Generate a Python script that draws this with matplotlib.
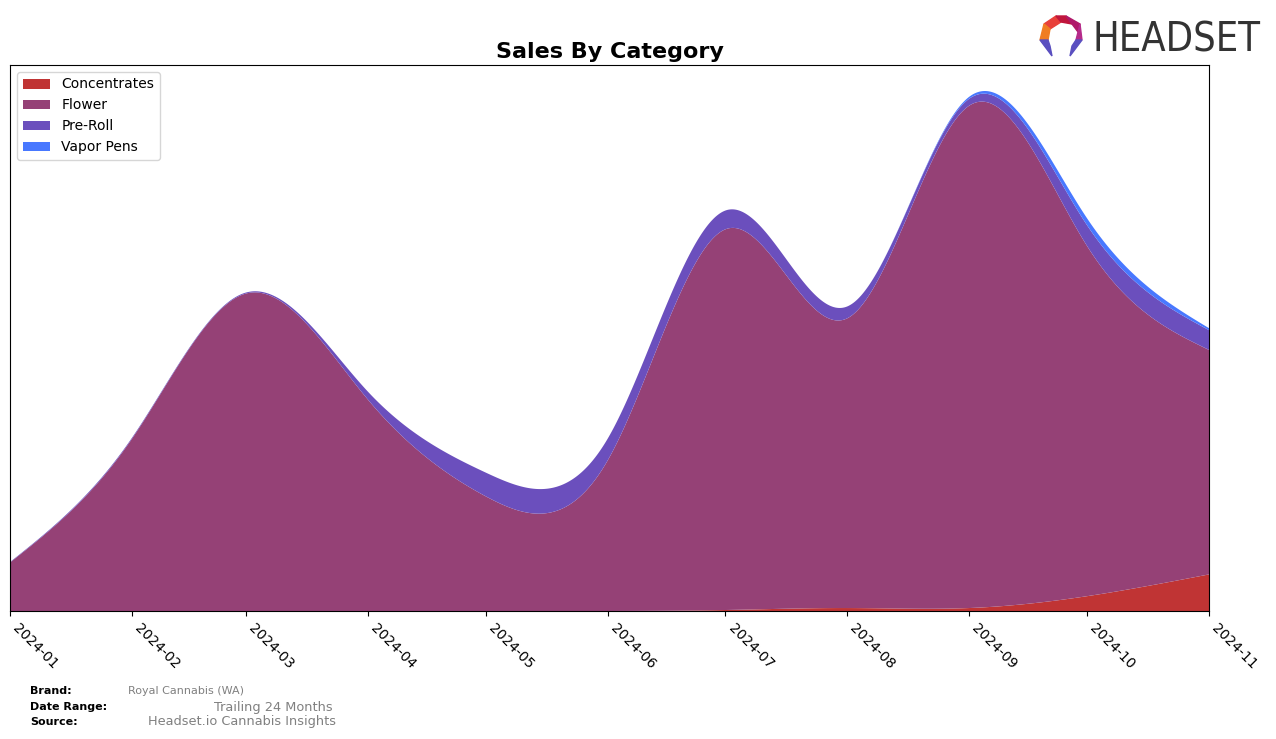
import numpy as np
import pandas as pd
import matplotlib
matplotlib.use("Agg")
import matplotlib.pyplot as plt
import matplotlib.dates as mdates
from matplotlib.patches import Polygon

# ---- data (monthly sales, arbitrary units) ----
months = ["2024-01", "2024-02", "2024-03", "2024-04", "2024-05", "2024-06",
          "2024-07", "2024-08", "2024-09", "2024-10", "2024-11"]
categories = ["Concentrates", "Flower", "Pre-Roll", "Vapor Pens"]
concentrates = [0, 0, 0, 0, 0, 0, 1, 3, 3, 15, 37]
flower = [49, 174, 321, 214, 116, 152, 385, 293, 508, 354, 227]
pre_roll = [0.5, 1, 1, 8, 24, 22, 19, 12, 7, 21, 20]
vapor_pens = [0, 0, 0, 0, 0, 0, 0, 0, 2, 7, 2]
colors = ["#c03434", "#954176", "#6b4fbd", "#4878ff"]


def spline(x, y, xs):
    """Natural cubic spline evaluated at xs."""
    x = np.asarray(x, float)
    y = np.asarray(y, float)
    n = len(x)
    h = np.diff(x)
    A = np.zeros((n, n))
    b = np.zeros(n)
    A[0, 0] = 1.0
    A[-1, -1] = 1.0
    for i in range(1, n - 1):
        A[i, i - 1] = h[i - 1]
        A[i, i] = 2 * (h[i - 1] + h[i])
        A[i, i + 1] = h[i]
        b[i] = 6 * ((y[i + 1] - y[i]) / h[i] - (y[i] - y[i - 1]) / h[i - 1])
    M = np.linalg.solve(A, b)
    idx = np.clip(np.searchsorted(x, xs) - 1, 0, n - 2)
    x0, x1 = x[idx], x[idx + 1]
    hh = x1 - x0
    out = (M[idx] * (x1 - xs) ** 3 / (6 * hh) + M[idx + 1] * (xs - x0) ** 3 / (6 * hh)
           + (y[idx] / hh - M[idx] * hh / 6) * (x1 - xs)
           + (y[idx + 1] / hh - M[idx + 1] * hh / 6) * (xs - x0))
    return out


dates = pd.to_datetime(months)
xnum = mdates.date2num(dates)
xs = np.linspace(xnum[0], xnum[-1], 800)
series = [concentrates, flower, pre_roll, vapor_pens]
smooth = [np.clip(spline(xnum, s, xs), 0, None) for s in series]

fig = plt.figure(figsize=(12.76, 7.39), dpi=100)
ax = fig.add_axes([10 / 1276, 1 - 611 / 739, 1199 / 1276, 546 / 739])
ax.stackplot(xs, *smooth, labels=categories, colors=colors, linewidth=0.4, edgecolor="none")
ax.set_xlim(xnum[0], xnum[-1])
ax.set_ylim(bottom=0)
ax.set_yticks([])
ax.set_xticks(xnum)
ax.set_xticklabels(months, rotation=-45, ha="left", fontsize=10)
ax.legend(loc="upper left", fontsize=10)
ax.set_title("Sales By Category", fontsize=16, fontweight="bold", pad=5)

# footer
fig.text(30 / 1276, 1 - 691 / 739, "Brand:", fontsize=8, fontweight="bold", va="center")
fig.text(128 / 1276, 1 - 691 / 739, "Royal Cannabis (WA)", fontsize=8, color="#808080", va="center")
fig.text(30 / 1276, 1 - 707 / 739, "Date Range:", fontsize=8, fontweight="bold", va="center")
fig.text(214 / 1276, 1 - 707 / 739, "Trailing 24 Months", fontsize=9.3, color="#808080", va="center")
fig.text(30 / 1276, 1 - 722 / 739, "Source:", fontsize=8, fontweight="bold", va="center")
fig.text(148 / 1276, 1 - 722 / 739, "Headset.io Cannabis Insights", fontsize=9.3, color="#808080", va="center")

# logo
lax = fig.add_axes([1036 / 1276, 1 - 62 / 739, 50 / 1276, 50 / 739])
lax.set_xlim(0, 50)
lax.set_ylim(0, 50)
lax.axis("off")
polys = [
    ([(8, 38), (20, 46), (25, 40), (14, 33)], "#e8403a"),
    ([(20, 46), (30, 46), (36, 38), (25, 40)], "#c0163c"),
    ([(30, 46), (44, 38), (42, 30), (36, 38)], "#b0186a"),
    ([(44, 38), (46, 22), (40, 22), (42, 30)], "#b52a8a"),
    ([(8, 38), (14, 33), (12, 22), (4, 22)], "#f07d22"),
    ([(4, 22), (12, 22), (14, 16), (16, 6)], "#5a4fc0"),
    ([(46, 22), (40, 22), (36, 16), (34, 6)], "#5a4fc0"),
]
for pts, c in polys:
    lax.add_patch(Polygon(pts, closed=True, color=c))
fig.text(1092 / 1276, 1 - 40 / 739, "HEADSET", fontsize=28.5, color="#333333",
         va="center", ha="left", family="DejaVu Sans", fontstretch="condensed")

fig.savefig("out.png", dpi=100)
